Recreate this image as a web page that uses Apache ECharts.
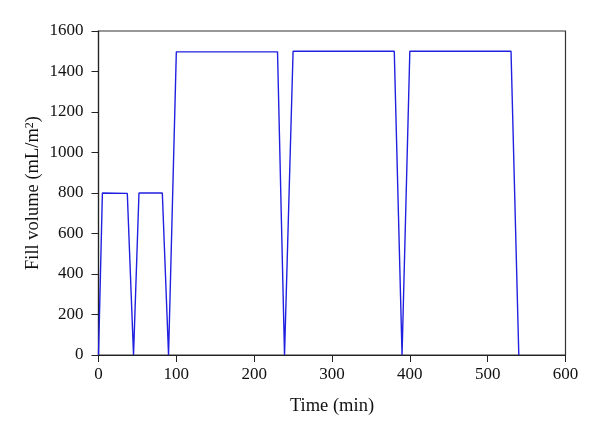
<!DOCTYPE html>
<html><head><meta charset="utf-8">
<script src="https://cdn.jsdelivr.net/npm/echarts@6/dist/echarts.min.js"></script>
<style>html,body{margin:0;padding:0;background:#fff}#c{width:600px;height:436px}</style>
</head><body><div id="c"></div>
<script>
var times   = [0, 5, 37, 45, 52, 82, 90, 100, 230, 239, 250, 380, 390, 400, 530, 540];
var volumes = [0, 800, 798, 0, 800, 800, 0, 1497, 1497, 0, 1500, 1500, 0, 1500, 1500, 0];
var xTicks = [0, 100, 200, 300, 400, 500, 600];
var yTicks = [0, 200, 400, 600, 800, 1000, 1200, 1400, 1600];

var data = times.map(function(t, i){ return [t, volumes[i]]; });
var font = 'Liberation Serif';
var plain = function(v){ return String(v); };
var chart = echarts.init(document.getElementById('c'));
chart.setOption({
  animation: false,
  grid: {left: 98.5, right: 34.5, top: 31, bottom: 81, show: true, borderColor: '#333', borderWidth: 1.2},
  xAxis: {
    type: 'value', min: xTicks[0], max: xTicks[xTicks.length-1], interval: 100,
    name: 'Time (min)', nameLocation: 'middle', nameGap: 42, nameMoveOverlap: false,
    nameTextStyle: {fontFamily: font, fontSize: 18.5, color: '#111'},
    axisLine: {lineStyle: {color: '#222', width: 1.2}},
    axisTick: {show: true, inside: false, length: 7, lineStyle: {color: '#222'}},
    axisLabel: {fontFamily: font, fontSize: 17, color: '#111', margin: 11, formatter: plain},
    splitLine: {show: false}
  },
  yAxis: {
    type: 'value', min: yTicks[0], max: yTicks[yTicks.length-1], interval: 200,
    name: '{a|Fill volume (mL/m}{s|2}{a|)}', nameLocation: 'middle', nameGap: 55, nameMoveOverlap: false,
    nameTextStyle: {fontFamily: font, fontSize: 18.5, color: '#111',
      rich: {
        a: {fontFamily: font, fontSize: 18.5, color: '#111'},
        s: {fontFamily: font, fontSize: 12, color: '#111', verticalAlign: 'top', padding: [0, 0, 8, 0]}
      }},
    axisLine: {show: true, lineStyle: {color: '#222', width: 1.2}},
    axisTick: {show: true, inside: false, length: 7, lineStyle: {color: '#222'}},
    axisLabel: {fontFamily: font, fontSize: 17, color: '#111', margin: 15, formatter: plain},
    splitLine: {show: false}
  },
  series: [{
    type: 'line', data: data, showSymbol: false, symbol: 'none',
    lineStyle: {color: '#2020e0', width: 1.4}
  }]
});
</script></body></html>
